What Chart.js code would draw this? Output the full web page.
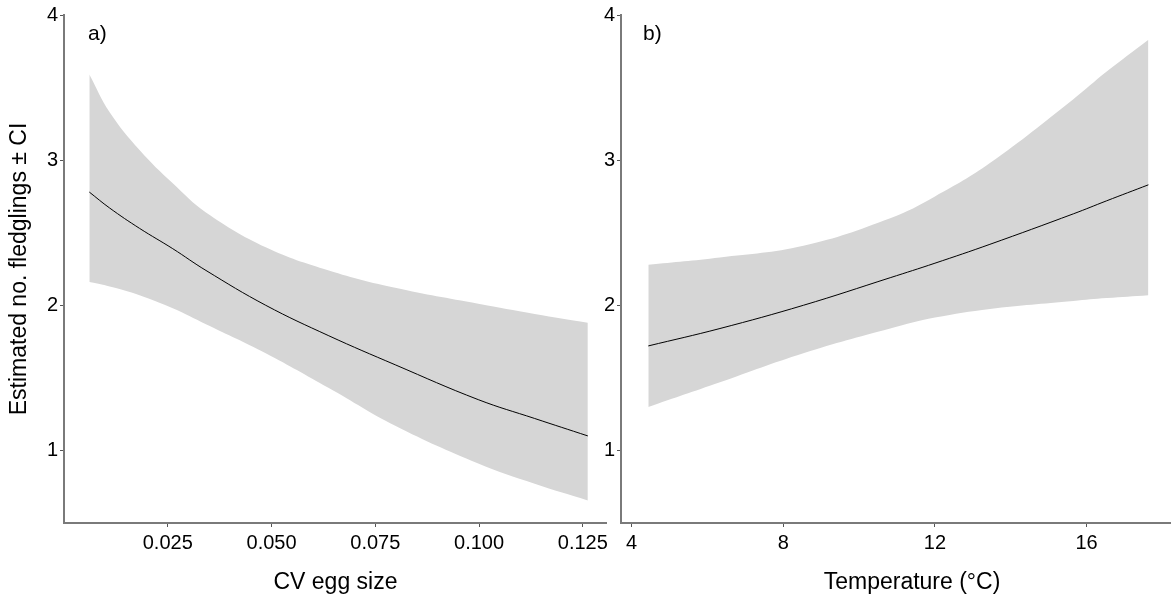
<!DOCTYPE html>
<html>
<head>
<meta charset="utf-8">
<script src="https://cdn.jsdelivr.net/npm/chart.js@4"></script>
<style>
  html, body { margin: 0; padding: 0; background: #fff; overflow: hidden; }
  #wrap { position: relative; width: 1171px; height: 605px; overflow: hidden; }
  canvas { position: absolute; top: 0; }
  #cA { left: 0; }
  #cB { left: 590px; }
</style>
</head>
<body>
<div id="wrap">
  <canvas id="cA" width="612" height="605"></canvas>
  <canvas id="cB" width="613" height="605"></canvas>
</div>
<script>
// panel a) - CV egg size
const cvEgg  = [0.0061, 0.0110, 0.0182, 0.0262, 0.0342, 0.0486, 0.0638, 0.0798, 0.0998, 0.1134, 0.1262];
const fitA   = [2.78, 2.67, 2.53, 2.39, 2.24, 2.00, 1.79, 1.59, 1.35, 1.22, 1.10];
const upperA = [3.59, 3.33, 3.07, 2.84, 2.64, 2.40, 2.24, 2.12, 2.01, 1.94, 1.88];
const lowerA = [2.16, 2.13, 2.07, 1.98, 1.87, 1.67, 1.43, 1.17, 0.91, 0.77, 0.655];

// panel b) - temperature
const temp   = [4.44, 6.33, 8.53, 10.82, 12.0, 13.45, 15.65, 16.53, 17.63];
const fitB   = [1.72, 1.84, 2.00, 2.19, 2.29, 2.42, 2.63, 2.72, 2.83];
const upperB = [2.28, 2.33, 2.41, 2.60, 2.75, 2.98, 3.42, 3.61, 3.83];
const lowerB = [1.30, 1.47, 1.67, 1.84, 1.915, 1.975, 2.03, 2.05, 2.07];

// ticks
const yTicks  = [1, 2, 3, 4];
const xTicksA = [0.025, 0.050, 0.075, 0.100, 0.125];
const xTicksB = [4, 8, 12, 16];

const FONT = '"Liberation Sans", Arial, sans-serif';
const BAND = '#d6d6d6';
const AXIS = '#7a7a7a';

const pts = (xs, ys) => xs.map((x, i) => ({ x: x, y: ys[i] }));

const panelTag = {
  id: 'panelTag',
  afterDraw(chart, args, opts) {
    const { ctx, chartArea } = chart;
    ctx.save();
    ctx.font = '21px ' + FONT;
    ctx.fillStyle = '#000';
    ctx.textBaseline = 'alphabetic';
    ctx.fillText(opts.text, chartArea.left + opts.dx, chartArea.top + 25);
    ctx.restore();
  }
};

function makePanel(id, xs, fit, up, lo, cfg) {
  new Chart(document.getElementById(id), {
    type: 'line',
    data: {
      datasets: [
        { data: pts(xs, fit), borderColor: '#000', borderWidth: 1, pointRadius: 0,
          tension: 0.4, fill: false },
        { data: pts(xs, up), borderWidth: 0, borderColor: BAND, backgroundColor: BAND,
          pointRadius: 0, tension: 0.4, fill: '+1' },
        { data: pts(xs, lo), borderWidth: 0, borderColor: BAND, backgroundColor: BAND,
          pointRadius: 0, tension: 0.4, fill: false }
      ]
    },
    plugins: [panelTag],
    options: {
      responsive: false,
      animation: false,
      devicePixelRatio: 1,
      layout: { padding: { top: 15, right: cfg.padRight, left: 0, bottom: 0 } },
      plugins: {
        legend: { display: false },
        tooltip: { enabled: false },
        panelTag: { text: cfg.tag, dx: cfg.tagDx }
      },
      scales: {
        x: {
          type: 'linear',
          min: cfg.xMin, max: cfg.xMax,
          afterBuildTicks: s => { s.ticks = cfg.xTicks.map(v => ({ value: v })); },
          afterFit: s => { s.height = 82; },
          ticks: {
            color: '#000', font: { family: FONT, size: 20 }, padding: 4,
            autoSkip: false, maxRotation: 0,
            callback: v => cfg.fmt(v)
          },
          grid: { drawOnChartArea: false, drawTicks: true, tickLength: 4, color: '#555', lineWidth: 1 },
          border: { display: true, color: AXIS, width: 2 },
          title: { display: true, text: cfg.xTitle, color: '#000',
                   font: { family: FONT, size: 23 }, padding: { bottom: 9 } }
        },
        y: {
          type: 'linear',
          min: 0.5, max: 4,
          afterBuildTicks: s => { s.ticks = yTicks.map(v => ({ value: v })); },
          afterFit: s => { s.width = cfg.yWidth; },
          ticks: { color: '#000', font: { family: FONT, size: 20 }, padding: 2 },
          grid: { drawOnChartArea: false, drawTicks: true, tickLength: 4, color: '#555', lineWidth: 1 },
          border: { display: true, color: AXIS, width: 2 },
          title: { display: cfg.yTitle !== '', text: cfg.yTitle, color: '#000',
                   font: { family: FONT, size: 23 }, padding: { top: 6 } }
        }
      }
    }
  });
}

makePanel('cA', cvEgg, fitA, upperA, lowerA, {
  tag: 'a)', tagDx: 24, padRight: 3, yWidth: 64,
  xMin: 0, xMax: 0.1308, xTicks: xTicksA, fmt: v => v.toFixed(3),
  xTitle: 'CV egg size', yTitle: 'Estimated no. fledglings \u00b1 CI'
});

makePanel('cB', temp, fitB, upperB, lowerB, {
  tag: 'b)', tagDx: 22, padRight: 0, yWidth: 31,
  xMin: 3.72, xMax: 19.07, xTicks: xTicksB, fmt: v => String(v),
  xTitle: 'Temperature (\u00b0C)', yTitle: ''
});
</script>
</body>
</html>
